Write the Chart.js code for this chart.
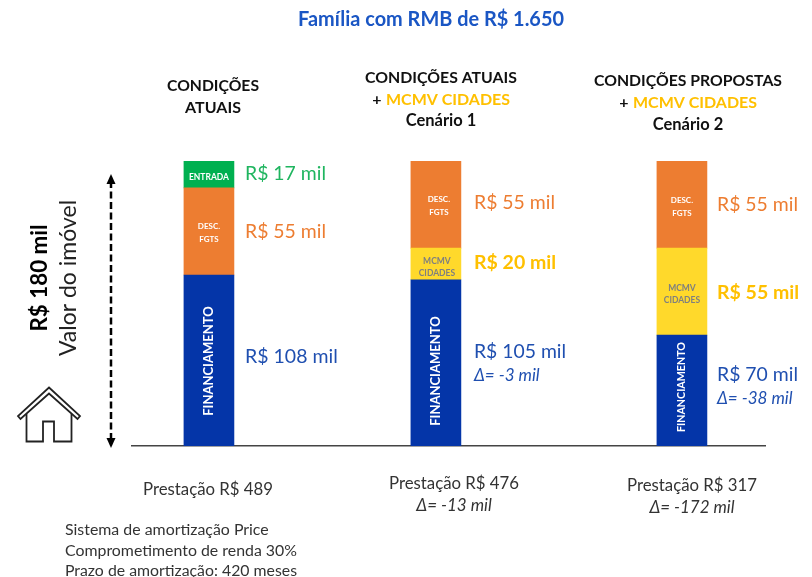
<!DOCTYPE html>
<html lang="pt-BR">
<head>
<meta charset="utf-8">
<title>Família com RMB de R$ 1.650</title>
<script src="https://cdn.jsdelivr.net/npm/chart.js@4"></script>
<style>html,body{margin:0;padding:0;background:#fff}canvas{display:block}</style>
</head>
<body>
<canvas id="c" width="812" height="577"></canvas>
<script>
const categories = ["Condições atuais", "Cenário 1", "Cenário 2"];
const financiamento = [108, 105, 70];
const mcmvCidades = [null, 20, 55];
const descFgts = [55, 55, 55];
const entrada = [17, null, null];
const prestacao = [489, 476, 317];
const scenarioSlots = [0, 1, 2.084];

const BLUE = "#0435A8", ORANGE = "#ED7D31", YELLOW = "#FFD92B", GREEN = "#00B050";
const FONT = "Lato, sans-serif";
const pts = arr => arr.map((v, i) => ({ x: scenarioSlots[i], y: v, category: categories[i] }));

function t(ctx, str, x, y, o = {}) {
  ctx.save();
  ctx.font = `${o.style || ""} ${o.weight || ""} ${o.size || 15}px ${FONT}`.trim();
  ctx.fillStyle = o.color || "#000";
  ctx.textAlign = o.align || "center";
  ctx.textBaseline = "middle";
  if (o.rot) { ctx.translate(x, y); ctx.rotate(-Math.PI / 2); ctx.fillText(str, 0, 0, o.fit); }
  else ctx.fillText(str, x, y + 0.8, o.fit);
  ctx.restore();
}
const money = v => `R$ ${v} mil`;

const annotations = {
  id: "annotations",
  afterDatasetsDraw(chart) {
    const c = chart.ctx, xs = chart.scales.x, cx = scenarioSlots.map(s => xs.getPixelForValue(s));

    // título e cabeçalhos
    t(c, "Família com RMB de R$ 1.650", 431, 19, { size: 20, weight: "bold", color: "#1A56C4", fit: 266 });
    const hd = { size: 16, weight: "bold", color: "#111" };
    t(c, "CONDIÇÕES", 213, 85, { ...hd, fit: 92 }); t(c, "ATUAIS", 213, 107, hd);
    t(c, "CONDIÇÕES ATUAIS", 441, 77, { ...hd, fit: 152 });
    t(c, "Cenário 1", 441, 120, { ...hd, size: 16.5 });
    t(c, "CONDIÇÕES PROPOSTAS", 688, 80, { ...hd, fit: 188 });
    t(c, "Cenário 2", 688, 124, { ...hd, size: 16.5 });
    [[441, 99], [688, 102]].forEach(([x, y]) => {
      t(c, "+", x - 64, y, hd);
      t(c, "MCMV CIDADES", x + 7, y, { ...hd, color: "#FFC000", fit: 124 });
    });

    // rótulos internos
    const inner = { size: 8, weight: "bold", color: "#FFFFFF" };
    t(c, "ENTRADA", cx[0], 176, { ...inner, size: 8.5 });
    [[cx[0], 226], [cx[1] + 3, 199], [cx[2], 200]].forEach(([x, y]) => {
      t(c, "DESC.", x, y, inner); t(c, "FGTS", x, y + 13, inner);
    });
    const grey = { ...inner, color: "#7F7F7F", size: 8.5 };
    [[cx[1] + 1, 260], [cx[2], 287.5]].forEach(([x, y]) => {
      t(c, "MCMV", x, y, grey); t(c, "CIDADES", x, y + 12, grey);
    });
    const fin = { size: 13, weight: "bold", color: "#FFFFFF", rot: true };
    t(c, "FINANCIAMENTO", cx[0], 361, { ...fin, fit: 111 });
    t(c, "FINANCIAMENTO", cx[1], 371, { ...fin, fit: 111 });
    t(c, "FINANCIAMENTO", cx[2], 387, { ...fin, size: 11, fit: 90 });

    // valores
    const v = { size: 19.5, align: "left" };
    t(c, money(entrada[0]), 245, 173, { ...v, color: "#1FB55F", fit: 81 });
    t(c, money(descFgts[0]), 245, 231, { ...v, color: ORANGE, fit: 81 });
    t(c, money(financiamento[0]), 245, 356, { ...v, color: "#1F4FB0", fit: 93 });
    t(c, money(descFgts[1]), 474, 202, { ...v, color: ORANGE, fit: 81 });
    t(c, money(mcmvCidades[1]), 474, 262, { ...v, weight: "bold", color: "#FFC000", fit: 83 });
    t(c, money(financiamento[1]), 474, 351, { ...v, color: "#1F4FB0", fit: 92 });
    t(c, "Δ= -3 mil", 474, 375, { size: 17, style: "italic", align: "left", color: "#1F4FB0", fit: 67 });
    t(c, money(descFgts[2]), 717, 204, { ...v, color: ORANGE, fit: 81 });
    t(c, money(mcmvCidades[2]), 717, 292, { ...v, weight: "bold", color: "#FFC000", fit: 83 });
    t(c, money(financiamento[2]), 717, 374, { ...v, color: "#1F4FB0", fit: 81 });
    t(c, "Δ= -38 mil", 717, 398, { size: 17, style: "italic", align: "left", color: "#1F4FB0", fit: 77 });

    // eixo de valor do imóvel
    t(c, "R$ 180 mil", 40, 278, { size: 23, weight: "bold", rot: true, fit: 107 });
    t(c, "Valor do imóvel", 69, 278, { size: 23, color: "#222", rot: true, fit: 157 });
    c.save();
    c.strokeStyle = "#000"; c.fillStyle = "#000"; c.lineWidth = 2.5;
    c.setLineDash([7, 3.5]);
    c.beginPath(); c.moveTo(111, 181); c.lineTo(111, 441); c.stroke();
    c.setLineDash([]);
    c.beginPath(); c.moveTo(111, 174); c.lineTo(106.5, 184); c.lineTo(115.5, 184); c.closePath(); c.fill();
    c.beginPath(); c.moveTo(111, 448); c.lineTo(106.5, 438); c.lineTo(115.5, 438); c.closePath(); c.fill();

    // casa
    c.strokeStyle = "#222"; c.lineWidth = 1.8; c.lineJoin = "miter";
    c.beginPath();
    c.moveTo(49, 387.5); c.lineTo(80, 416); c.lineTo(77.5, 419); c.lineTo(49, 393.5);
    c.lineTo(20.5, 419); c.lineTo(18, 416); c.closePath(); c.stroke();
    c.beginPath();
    c.moveTo(26.5, 414); c.lineTo(26.5, 441.5); c.lineTo(43, 441.5); c.lineTo(43, 421.5);
    c.lineTo(54, 421.5); c.lineTo(54, 441.5); c.lineTo(71.5, 441.5); c.lineTo(71.5, 414);
    c.stroke();
    c.restore();

    // prestações
    const p = { size: 16.8, color: "#333" };
    t(c, `Prestação R$ ${prestacao[0]}`, 208, 489, { ...p, fit: 131 });
    t(c, `Prestação R$ ${prestacao[1]}`, 454, 483, { ...p, fit: 131 });
    t(c, "Δ= -13 mil", 454, 505, { ...p, size: 17, style: "italic", fit: 77 });
    t(c, `Prestação R$ ${prestacao[2]}`, 692, 485, { ...p, fit: 131 });
    t(c, "Δ= -172 mil", 692, 507, { ...p, size: 17, style: "italic", fit: 85 });

    // premissas
    const n = { size: 15.9, align: "left", color: "#333" };
    t(c, "Sistema de amortização Price", 65, 529, { ...n, fit: 204 });
    t(c, "Comprometimento de renda 30%", 65, 550, { ...n, fit: 232 });
    t(c, "Prazo de amortização: 420 meses", 65, 570, { ...n, fit: 232 });
  }
};

new Chart(document.getElementById("c"), {
  type: "bar",
  data: {
    datasets: [
      { label: "Financiamento", data: pts(financiamento), backgroundColor: BLUE },
      { label: "MCMV Cidades", data: pts(mcmvCidades), backgroundColor: YELLOW },
      { label: "Desc. FGTS", data: pts(descFgts), backgroundColor: ORANGE },
      { label: "Entrada", data: pts(entrada), backgroundColor: GREEN }
    ]
  },
  options: {
    responsive: false,
    animation: false,
    devicePixelRatio: 1,
    barThickness: 50,
    layout: { padding: { left: 132, right: 47, top: 161, bottom: 131 } },
    plugins: { legend: { display: false }, title: { display: false }, tooltip: { enabled: false } },
    scales: {
      x: {
        type: "linear", stacked: true, offset: false, min: -0.339, max: 2.45,
        grid: { display: false, drawTicks: false },
        border: { display: true, color: "#444", width: 1.5 },
        ticks: { display: false }
      },
      y: { stacked: true, min: 0, max: 180, display: false }
    }
  },
  plugins: [annotations]
});
</script>
</body>
</html>
